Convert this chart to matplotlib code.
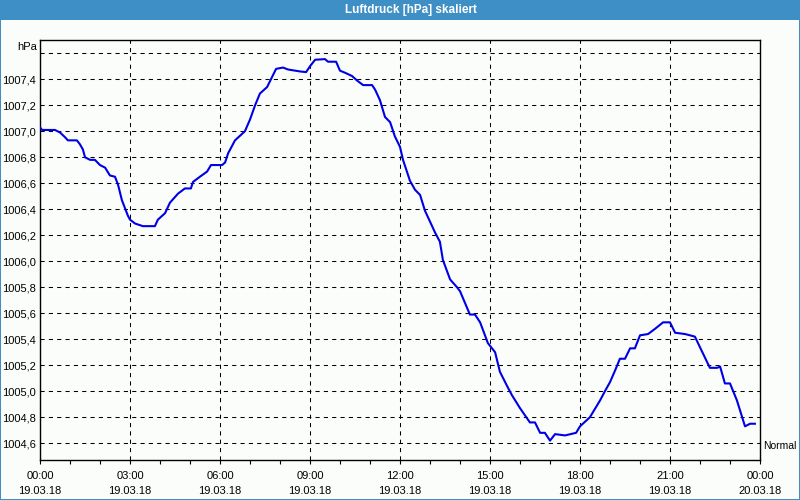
import matplotlib.pyplot as plt
from matplotlib.patches import Rectangle
from matplotlib.ticker import MultipleLocator

plt.rcParams['font.family'] = ['Liberation Sans', 'DejaVu Sans']

# hours since 19.03.18 00:00 and pressure in hPa
hours = [0.0, 0.07, 0.5, 0.67, 0.83, 0.93, 1.23, 1.33, 1.43, 1.5, 1.67, 1.83,
         2.0, 2.17, 2.33, 2.5, 2.6, 2.73, 2.93, 3.0, 3.17, 3.43, 3.83, 3.93,
         4.17, 4.33, 4.6, 4.83, 5.03, 5.1, 5.33, 5.57, 5.7, 6.07, 6.17, 6.27,
         6.5, 6.83, 7.0, 7.17, 7.33, 7.57, 7.87, 8.1, 8.27, 8.67, 8.87, 9.0,
         9.17, 9.5, 9.6, 9.87, 10.0, 10.17, 10.4, 10.57, 10.77, 11.07, 11.17,
         11.33, 11.5, 11.67, 11.83, 12.0, 12.1, 12.23, 12.33, 12.5, 12.67,
         12.83, 13.17, 13.33, 13.43, 13.67, 13.9, 14.0, 14.33, 14.5, 14.67,
         14.93, 15.17, 15.33, 15.57, 15.73, 16.0, 16.33, 16.5, 16.67, 16.83,
         17.0, 17.17, 17.5, 17.87, 18.0, 18.33, 18.67, 18.83, 19.0, 19.17,
         19.33, 19.5, 19.67, 19.83, 20.0, 20.27, 20.5, 20.77, 21.0, 21.17,
         21.5, 21.67, 21.83, 22.1, 22.33, 22.57, 22.67, 22.83, 23.0, 23.23,
         23.5, 23.67, 23.83]
pressure = [1007.03, 1007.01, 1007.01, 1006.99, 1006.955, 1006.93, 1006.93,
            1006.90, 1006.86, 1006.80, 1006.78, 1006.78, 1006.74, 1006.72,
            1006.66, 1006.65, 1006.59, 1006.47, 1006.35, 1006.32, 1006.29,
            1006.27, 1006.27, 1006.32, 1006.37, 1006.45, 1006.52, 1006.56,
            1006.56, 1006.61, 1006.65, 1006.69, 1006.74, 1006.74, 1006.76,
            1006.83, 1006.93, 1007.00, 1007.09, 1007.20, 1007.29, 1007.34,
            1007.48, 1007.49, 1007.475, 1007.46, 1007.455, 1007.50, 1007.55,
            1007.555, 1007.535, 1007.535, 1007.466, 1007.45, 1007.425, 1007.39,
            1007.355, 1007.355, 1007.32, 1007.24, 1007.11, 1007.07, 1006.96,
            1006.88, 1006.78, 1006.69, 1006.62, 1006.55, 1006.51, 1006.39,
            1006.22, 1006.15, 1006.01, 1005.86, 1005.80, 1005.77, 1005.59,
            1005.59, 1005.53, 1005.37, 1005.30, 1005.15, 1005.04, 1004.97,
            1004.87, 1004.76, 1004.76, 1004.68, 1004.68, 1004.62, 1004.67,
            1004.66, 1004.68, 1004.73, 1004.80, 1004.93, 1005.00, 1005.07,
            1005.16, 1005.25, 1005.25, 1005.33, 1005.33, 1005.43, 1005.44,
            1005.48, 1005.53, 1005.53, 1005.45, 1005.44, 1005.43, 1005.42,
            1005.29, 1005.18, 1005.18, 1005.19, 1005.06, 1005.06, 1004.93,
            1004.73, 1004.75, 1004.75]

x_ticks = [0, 3, 6, 9, 12, 15, 18, 21, 24]
x_labels = ["00:00\n19.03.18", "03:00\n19.03.18", "06:00\n19.03.18",
            "09:00\n19.03.18", "12:00\n19.03.18", "15:00\n19.03.18",
            "18:00\n19.03.18", "21:00\n19.03.18", "00:00\n20.03.18"]
y_ticks = [1004.6, 1004.8, 1005.0, 1005.2, 1005.4, 1005.6, 1005.8, 1006.0,
           1006.2, 1006.4, 1006.6, 1006.8, 1007.0, 1007.2, 1007.4, 1007.6]
y_labels = [f"{v:.1f}".replace(".", ",") for v in y_ticks[:-1]] + [""]

bar_blue = "#3d8fc6"
fig = plt.figure(figsize=(8, 5), dpi=100)
fig.patch.set_facecolor("#fbfdfb")

# window title bar and thin border
fig.patches.append(Rectangle((0, 0.96), 1, 0.04, transform=fig.transFigure,
                             facecolor=bar_blue, edgecolor="none"))
for r in [(0, 0, 0.0015, 1), (0.9985, 0, 0.0015, 1), (0, 0, 1, 0.003)]:
    fig.patches.append(Rectangle(r[:2], r[2], r[3], transform=fig.transFigure,
                                 facecolor=bar_blue, edgecolor="none"))
fig.text(0.514, 0.98, "Luftdruck [hPa] skaliert", color="white",
         fontsize=8.5, fontweight="bold", ha="center", va="center")

ax = fig.add_axes([0.05, 0.08, 0.9, 0.84])
ax.set_facecolor("#fbfdfb")
ax.plot(hours, pressure, color="#0000e6", lw=1.5, zorder=3)

ax.set_xlim(0, 24)
ax.set_ylim(1004.471, 1007.702)
ax.set_xticks(x_ticks)
ax.set_xticklabels(x_labels, fontsize=8, linespacing=1.6)
ax.xaxis.set_minor_locator(MultipleLocator(1))
ax.set_yticks(y_ticks)
ax.set_yticklabels(y_labels, fontsize=8)
ax.tick_params(axis="x", which="both", length=3, width=0.8, direction="out",
               pad=5, colors="black")
ax.tick_params(axis="y", length=0, pad=3)
ax.grid(True, color="black", lw=0.75, linestyle=(0, (4, 4)))
for s in ax.spines.values():
    s.set_color("black")
    s.set_linewidth(1.0)

ax.text(-0.004, 1007.65, "hPa", fontsize=8, ha="right", va="center",
        transform=ax.get_yaxis_transform())
ax.text(1.004, 1004.58, "Normal", fontsize=7.5, ha="left", va="center",
        transform=ax.get_yaxis_transform())

fig.savefig("out.png", dpi=100, facecolor=fig.get_facecolor())
